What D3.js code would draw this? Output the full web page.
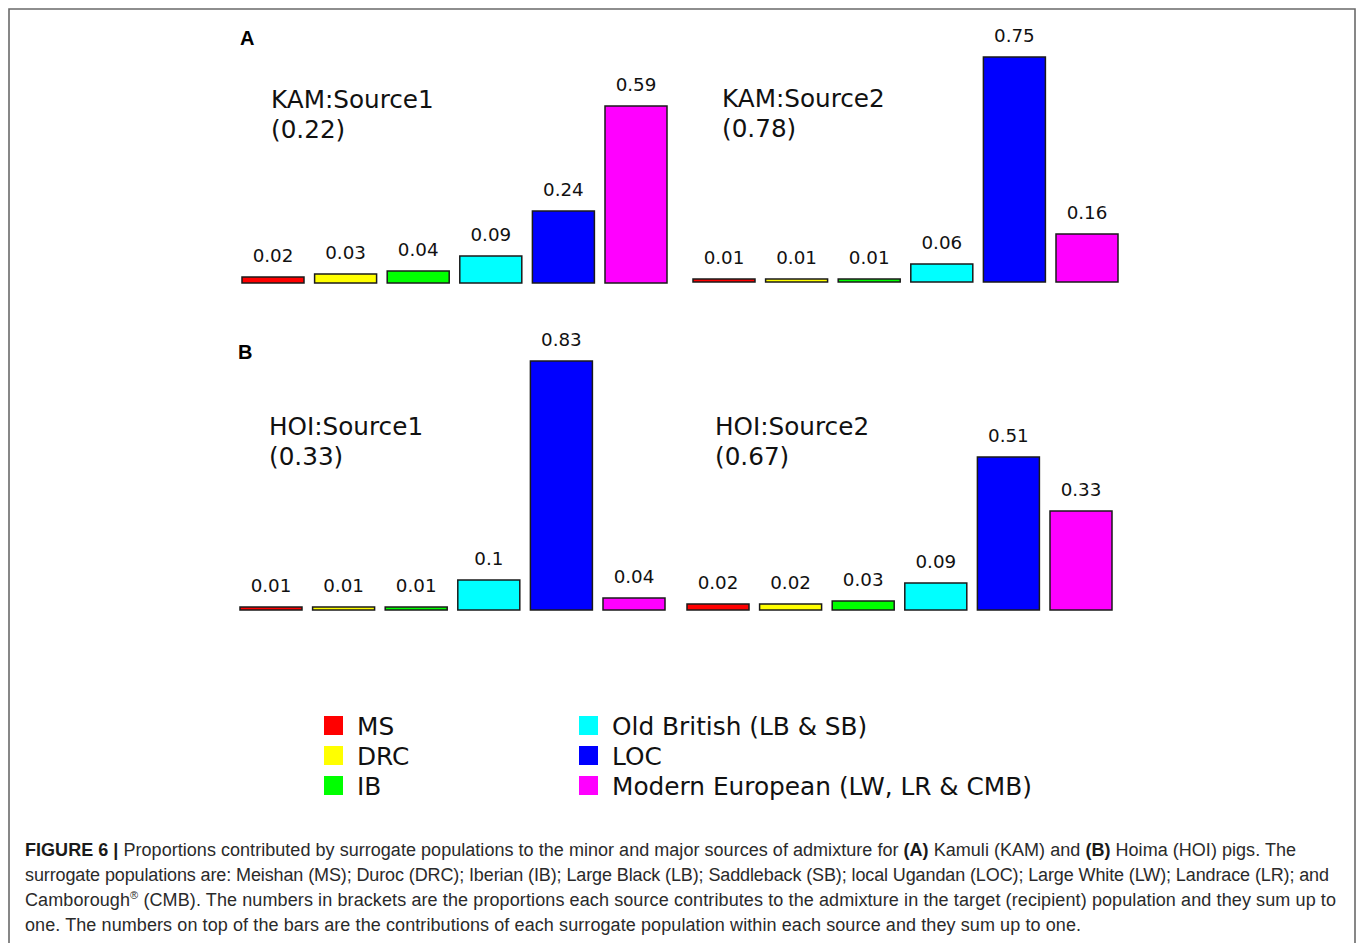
<!DOCTYPE html>
<html>
<head>
<meta charset="utf-8">
<script src="https://d3js.org/d3.v7.min.js"></script>
<style>
  html, body { margin: 0; padding: 0; background: #fff; }
  svg { display: block; }
</style>
</head>
<body>
<svg id="chart" width="1357" height="943"></svg>
<script>
// ---- data ----
const categories = ["MS", "DRC", "IB", "OB", "LOC", "ME"];
const colors = ["#ff0000", "#ffff00", "#00ff00", "#00ffff", "#0000ff", "#ff00ff"];
const legendLabels = ["MS", "DRC", "IB", "Old British (LB & SB)", "LOC", "Modern European (LW, LR & CMB)"];

const kamSource1 = [0.02, 0.03, 0.04, 0.09, 0.24, 0.59];
const kamSource2 = [0.01, 0.01, 0.01, 0.06, 0.75, 0.16];
const hoiSource1 = [0.01, 0.01, 0.01, 0.1, 0.83, 0.04];
const hoiSource2 = [0.02, 0.02, 0.03, 0.09, 0.51, 0.33];

const sourceNames = ["KAM:Source1", "KAM:Source2", "HOI:Source1", "HOI:Source2"];
const sourceShares = ["(0.22)", "(0.78)", "(0.33)", "(0.67)"];

const captionLines = [
  [{b: true, t: "FIGURE 6 | "}, {t: "Proportions contributed by surrogate populations to the minor and major sources of admixture for "}, {b: true, t: "(A)"}, {t: " Kamuli (KAM) and "}, {b: true, t: "(B)"}, {t: " Hoima (HOI) pigs. The"}],
  [{t: "surrogate populations are: Meishan (MS); Duroc (DRC); Iberian (IB); Large Black (LB); Saddleback (SB); local Ugandan (LOC); Large White (LW); Landrace (LR); and"}],
  [{t: "Camborough"}, {sup: true, t: "®"}, {t: " (CMB). The numbers in brackets are the proportions each source contributes to the admixture in the target (recipient) population and they sum up to"}],
  [{t: "one. The numbers on top of the bars are the contributions of each surrogate population within each source and they sum up to one."}]
];

// ---- layout ----
const svg = d3.select("#chart");
const FONT = "'DejaVu Sans', sans-serif";

// frame
svg.append("path")
  .attr("d", "M9,943 V9 H1355 V943")
  .attr("fill", "none").attr("stroke", "#6a6a6a").attr("stroke-width", 1.6);

const panels = [
  {vals: kamSource1, x0: 236.7, base: 283, tx: 271, ty: 108},
  {vals: kamSource2, x0: 687.7, base: 282, tx: 722, ty: 107},
  {vals: hoiSource1, x0: 234.7, base: 610, tx: 269, ty: 435},
  {vals: hoiSource2, x0: 681.7, base: 610, tx: 715, ty: 435}
];
const step = 72.6;
const pad = 0.146;

panels.forEach((p, i) => {
  const x = d3.scaleBand().domain(categories)
    .range([p.x0, p.x0 + 6 * step]).paddingInner(pad).paddingOuter(pad / 2);
  const y = d3.scaleLinear().domain([0, 1]).range([p.base, p.base - 300]);
  const g = svg.append("g");
  const data = p.vals.map((v, j) => ({c: categories[j], v, col: colors[j]}));
  g.selectAll("rect").data(data).join("rect")
    .attr("x", d => x(d.c))
    .attr("y", d => y(d.v))
    .attr("width", x.bandwidth())
    .attr("height", d => y(0) - y(d.v))
    .attr("fill", d => d.col)
    .attr("stroke", "#1a1a1a").attr("stroke-width", 1.5);
  g.selectAll("text.val").data(data).join("text")
    .attr("class", "val")
    .attr("x", d => x(d.c) + x.bandwidth() / 2)
    .attr("y", d => y(d.v) - 15)
    .attr("text-anchor", "middle")
    .attr("font-family", FONT).attr("font-size", 18.3).attr("fill", "#111")
    .text(d => d.v);
  g.append("text").attr("x", p.tx).attr("y", p.ty)
    .attr("font-family", FONT).attr("font-size", 24.7).attr("fill", "#111")
    .text(sourceNames[i]);
  g.append("text").attr("x", p.tx).attr("y", p.ty + 29.5)
    .attr("font-family", FONT).attr("font-size", 24.7).attr("fill", "#111")
    .text(sourceShares[i]);
});

// panel letters
svg.append("text").attr("x", 240).attr("y", 45)
  .attr("font-family", "'Liberation Sans', Arial, sans-serif").attr("font-weight", "bold")
  .attr("font-size", 20).text("A");
svg.append("text").attr("x", 238).attr("y", 359)
  .attr("font-family", "'Liberation Sans', Arial, sans-serif").attr("font-weight", "bold")
  .attr("font-size", 20).text("B");

// legend
const legendPos = [
  {x: 324, y: 716}, {x: 324, y: 746}, {x: 324, y: 776},
  {x: 579, y: 716}, {x: 579, y: 746}, {x: 579, y: 776}
];
const lg = svg.append("g");
legendLabels.forEach((lab, i) => {
  const pos = legendPos[i];
  lg.append("rect").attr("x", pos.x).attr("y", pos.y).attr("width", 19).attr("height", 19)
    .attr("fill", colors[i]);
  lg.append("text").attr("x", pos.x + 33).attr("y", pos.y + 19)
    .attr("font-family", FONT).attr("font-size", 24.8).attr("fill", "#111")
    .text(lab);
});

// caption
const capW = [1271, 1304, 1311, 1056];
captionLines.forEach((line, i) => {
  const t = svg.append("text").attr("x", 25).attr("y", 856 + i * 25)
    .attr("font-family", "'Liberation Sans', Arial, sans-serif")
    .attr("font-size", 18).attr("fill", "#2a2a2a");
  line.forEach((seg, k) => {
    const ts = t.append("tspan").text(seg.t);
    if (seg.b) ts.attr("font-weight", "bold").attr("fill", "#1a1a1a");
    if (seg.sup) ts.attr("font-size", 11).attr("dy", -7);
    if (k > 0 && line[k - 1].sup) ts.attr("dy", 7);
  });
  if (capW[i]) t.attr("textLength", capW[i]).attr("lengthAdjust", "spacing");
});
</script>
</body>
</html>
